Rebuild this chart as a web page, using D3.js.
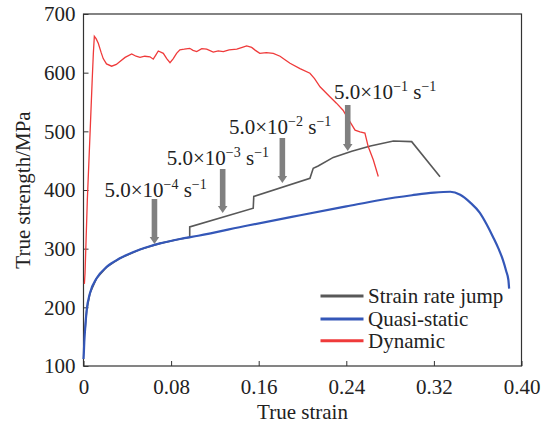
<!DOCTYPE html>
<html>
<head>
<meta charset="utf-8">
<script src="https://cdn.jsdelivr.net/npm/d3@7"></script>
<style>
  body { margin: 0; background: #fff; }
  svg text { font-family: "Liberation Serif", "Times New Roman", serif; fill: #222; }
</style>
</head>
<body>
<div id="container"></div>
<script>
// x ticks and y ticks
const xTicks = [0, 0.08, 0.16, 0.24, 0.32, 0.40];
const xTickLabels = ["0", "0.08", "0.16", "0.24", "0.32", "0.40"];
const yTicks = [100, 200, 300, 400, 500, 600, 700];

// quasi-static curve [strain, stress]
const quasiStatic = [
  [0, 112], [0.0003, 122], [0.0007, 140], [0.0014, 161], [0.0029, 195], [0.0059, 224],
  [0.012, 249.5], [0.0212, 269], [0.0333, 283.6], [0.0516, 298.5], [0.0699, 309],
  [0.0881, 316.5], [0.1048, 322], [0.15, 339.5], [0.198, 357], [0.24, 372], [0.271, 383],
  [0.3, 391], [0.32, 395.5], [0.335, 397], [0.344, 392], [0.353, 379], [0.362, 361],
  [0.368, 342], [0.374, 320], [0.379, 300], [0.383, 281], [0.386, 262], [0.388, 247], [0.3887, 232]
];

// strain rate jump curve
const rateJump = [
  [0.0014, 161], [0.0029, 195], [0.0059, 224], [0.012, 249.5], [0.0212, 269],
  [0.0333, 283.6], [0.0516, 298.5], [0.0699, 309], [0.0881, 316.5], [0.097, 319.5],
  [0.097, 337], [0.155, 369], [0.1555, 389], [0.2068, 420], [0.2098, 437],
  [0.2143, 441], [0.2281, 455.6], [0.245, 466], [0.262, 475], [0.283, 483.5],
  [0.2997, 482.4], [0.3256, 422.6]
];

// dynamic curve
const dynamic = [
  [0.0008, 240], [0.0014, 258], [0.0035, 383], [0.006, 497], [0.008, 590], [0.009, 633],
  [0.0099, 662], [0.0115, 658], [0.0135, 650], [0.016, 635], [0.018, 624], [0.021, 615],
  [0.0257, 611], [0.03, 614], [0.0333, 619], [0.038, 626], [0.044, 632], [0.048, 628],
  [0.0516, 626], [0.056, 628], [0.0607, 627], [0.0637, 623], [0.066, 630], [0.0683, 637],
  [0.0729, 633], [0.076, 624], [0.079, 617], [0.082, 624], [0.085, 633], [0.088, 639],
  [0.092, 640], [0.097, 641.5], [0.1, 638], [0.1034, 636], [0.108, 641], [0.1125, 640],
  [0.1185, 635], [0.123, 637], [0.1277, 636], [0.133, 639], [0.14, 640], [0.145, 643],
  [0.149, 645.5], [0.1536, 643], [0.157, 638], [0.161, 633], [0.167, 634], [0.1733, 633],
  [0.1795, 628], [0.184, 622], [0.1886, 616], [0.1977, 607], [0.2068, 599], [0.211, 590],
  [0.216, 576], [0.225, 559], [0.231, 548], [0.237, 536], [0.2434, 516], [0.248, 502],
  [0.2525, 499], [0.257, 497], [0.26, 474], [0.2647, 451], [0.2692, 423]
];

// strain rate annotations: exponent, arrow strain, arrow top, arrow tip, label strain, label stress
const rateExponents = ["\u22124", "\u22123", "\u22122", "\u22121"];
const arrowStrain = [0.0648, 0.1271, 0.1816, 0.2413];
const arrowTop = [384.7, 435.8, 488.6, 545];
const arrowTip = [308, 360.8, 412, 466.5];
const labelStrain = [0.0191, 0.076, 0.1329, 0.2288];
const labelStress = [388.6, 442.6, 495.5, 555];

const legendNames = ["Strain rate jump", "Quasi-static", "Dynamic"];
const colors = ["#585858", "#3457b8", "#ef3a3a"];

function drawChart() {
  const W = 544, H = 423;
  const margin = { top: 14, right: 22.5, bottom: 57, left: 83.5 };
  const width = W - margin.left - margin.right;
  const height = H - margin.top - margin.bottom;

  const svg = d3.select("#container").append("svg")
    .attr("width", W).attr("height", H)
    .append("g")
    .attr("transform", `translate(${margin.left},${margin.top})`);

  const x = d3.scaleLinear().domain([0, 0.4]).range([0, width]);
  const y = d3.scaleLinear().domain([100, 700]).range([height, 0]);

  // frame
  svg.append("rect")
    .attr("width", width).attr("height", height)
    .attr("fill", "none").attr("stroke", "#333").attr("stroke-width", 1.2);

  // axes, ticks pointing inward
  const xAxis = svg.append("g")
    .attr("transform", `translate(0,${height})`)
    .call(d3.axisBottom(x).tickValues(xTicks).tickSizeInner(-5).tickSizeOuter(0)
      .tickFormat((d, i) => xTickLabels[i]));
  xAxis.select(".domain").remove();
  xAxis.selectAll("line").attr("stroke", "#333");
  xAxis.selectAll("text")
    .attr("y", 13).attr("dy", "0.71em")
    .style("font-size", "21px").style("font-family", "Liberation Serif");

  const yAxis = svg.append("g")
    .call(d3.axisLeft(y).tickValues(yTicks).tickSizeInner(-5).tickSizeOuter(0)
      .tickFormat(d3.format("d")));
  yAxis.select(".domain").remove();
  yAxis.selectAll("line").attr("stroke", "#333");
  yAxis.selectAll("text")
    .attr("x", -8)
    .style("font-size", "21px").style("font-family", "Liberation Serif");

  // axis titles
  svg.append("text")
    .attr("x", width / 2).attr("y", height + 53)
    .attr("text-anchor", "middle")
    .style("font-size", "21px")
    .text("True strain");

  svg.append("text")
    .attr("transform", `translate(${-54},${height / 2}) rotate(-90)`)
    .attr("text-anchor", "middle")
    .style("font-size", "21px")
    .text("True strength/MPa");

  const line = d3.line().x(d => x(d[0])).y(d => y(d[1]));
  const smooth = d3.line().x(d => x(d[0])).y(d => y(d[1])).curve(d3.curveMonotoneX);

  svg.append("path").datum(rateJump)
    .attr("d", line).attr("fill", "none")
    .attr("stroke", colors[0]).attr("stroke-width", 1.6);

  svg.append("path").datum(quasiStatic)
    .attr("d", smooth).attr("fill", "none")
    .attr("stroke", colors[1]).attr("stroke-width", 2.2);

  svg.append("path").datum(dynamic)
    .attr("d", line).attr("fill", "none")
    .attr("stroke", colors[2]).attr("stroke-width", 1.3);

  // arrows
  rateExponents.forEach((ex, i) => {
    const ax = x(arrowStrain[i]);
    const top = y(arrowTop[i]);
    const tip = y(arrowTip[i]);
    const sw = 2.8, hw = 4.8, hl = 7;
    svg.append("path")
      .attr("d", `M${ax - sw},${top} L${ax + sw},${top} L${ax + sw},${tip - hl} L${ax + hw},${tip - hl}
        L${ax},${tip} L${ax - hw},${tip - hl} L${ax - sw},${tip - hl} Z`)
      .attr("fill", "#808080");

    const t = svg.append("text")
      .attr("x", x(labelStrain[i])).attr("y", y(labelStress[i]))
      .style("font-size", "21px");
    t.append("tspan").text("5.0\u00d710");
    t.append("tspan").attr("dy", -8).style("font-size", "14px").text(ex);
    t.append("tspan").attr("dy", 8).text(" s");
    t.append("tspan").attr("dy", -8).style("font-size", "14px").text("\u22121");
  });

  // legend
  const legendY = [282, 305, 326.7];
  const lg = svg.append("g");
  legendNames.forEach((name, i) => {
    lg.append("line")
      .attr("x1", 237).attr("x2", 280)
      .attr("y1", legendY[i]).attr("y2", legendY[i])
      .attr("stroke", colors[i]).attr("stroke-width", 3);
    lg.append("text")
      .attr("x", 284.5).attr("y", legendY[i] + 7)
      .style("font-size", "21px")
      .text(name);
  });
}

drawChart();
</script>
</body>
</html>
